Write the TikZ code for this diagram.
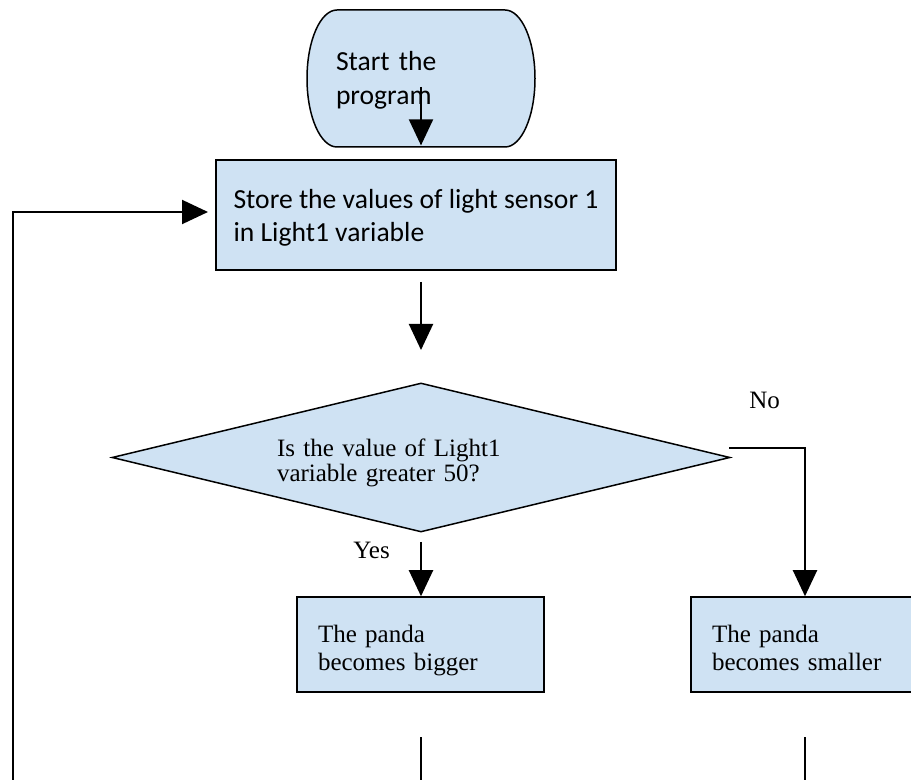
\documentclass[tikz,border=0pt]{standalone}
\usepackage{fontspec}
\setmainfont{Liberation Serif}
\newfontfamily\calib{Carlito}
\usetikzlibrary{shapes.geometric,arrows.meta}

\definecolor{boxblue}{RGB}{207,226,243}

% top and bottom struts that place the lines inside a shape
\newcommand{\topgap}[1]{\rule{0pt}{#1}}
\newcommand{\botgap}[1]{\rule[-#1]{0pt}{#1}}

\begin{document}
\begin{tikzpicture}[%
  x=0.5pt, y=-0.5pt,
  line/.style = {line width=1pt},
  boxline/.style = {draw, line width=0.75pt, fill=boxblue},
  sanstext/.style = {font=\fontsize{13.8pt}{16.75pt}\calib, align=left, inner sep=0pt},
  seriftext/.style = {font=\fontsize{12.5pt}{14pt}\selectfont, align=left, inner sep=0pt},
  gaps/.style 2 args = {execute at begin node=\topgap{#1}, execute at end node=\botgap{#2}},
  stepbox/.style = {boxline, sanstext, minimum width=200pt, minimum height=55pt},
  choice/.style = {boxline, diamond, seriftext, font=\fontsize{12.5pt}{12.5pt}\selectfont,
    aspect=4.15, text width=144pt, minimum width=309pt, minimum height=74.5pt,
    gaps={14pt}{2.85pt}},
  outbox/.style = {boxline, seriftext, text width=102.5pt, minimum width=123.5pt,
    minimum height=47.5pt, gaps={15pt}{3pt}},
  >={Triangle[width=12pt,length=13pt]},
]
  \useasboundingbox (0,0) rectangle (911,780);

  % terminator
  \draw[line width=0.75pt, fill=boxblue] (337,10) -- (505,10)
    arc[start angle=90, end angle=-90, x radius=15pt, y radius=34.25pt]
    -- (337,147)
    arc[start angle=270, end angle=90, x radius=15pt, y radius=34.25pt] -- cycle;
  \node[sanstext, text width=85pt, minimum height=68.5pt, gaps={12pt}{3.05pt}]
    (start) at (421,78.5) {Start the\\program};

  \node[stepbox] (store) at (416,215)
    {\topgap{13pt}Store the values of light sensor 1\\in Light1 variable\botgap{3.15pt}};

  \node[choice] (test) at (421,457.5)
    {Is the value of Light1\\variable greater 50?};

  \node[outbox] (bigger) at (420.5,644.5) {The panda\\becomes bigger};
  \node[outbox] (smaller) at (814.5,644.5) {The panda\\becomes smaller};

  \node[seriftext, anchor=base west] (no) at (749,408.5) {No};
  \node[seriftext, anchor=base west] (yes) at (353,559) {Yes};

  \coordinate (s1) at (421,87);
  \coordinate (a1) at (421,282);
  \coordinate (a2) at (421,350);
  \coordinate (y1) at (421,542);
  \coordinate (n1) at (729,448);
  \coordinate (ncol) at (805,448);
  \coordinate (b1) at (421,737);
  \coordinate (b2) at (421,782);
  \coordinate (c1) at (805,737);
  \coordinate (c2) at (805,782);
  \coordinate (l1) at (13,782);
  \coordinate (l2) at (208,212);

  \draw[line,->] (s1) -- ([yshift=1pt]start.south);
  \draw[line,->] (a1) -- (a2);
  \draw[line,->] (y1) -- (y1 |- bigger.north);
  \draw[line,->] (n1) -- (ncol) -- (ncol |- smaller.north);
  \draw[line] (b1) -- (b2);
  \draw[line] (c1) -- (c2);
  \draw[line,->] (l1) |- (l2);

\end{tikzpicture}
\end{document}
